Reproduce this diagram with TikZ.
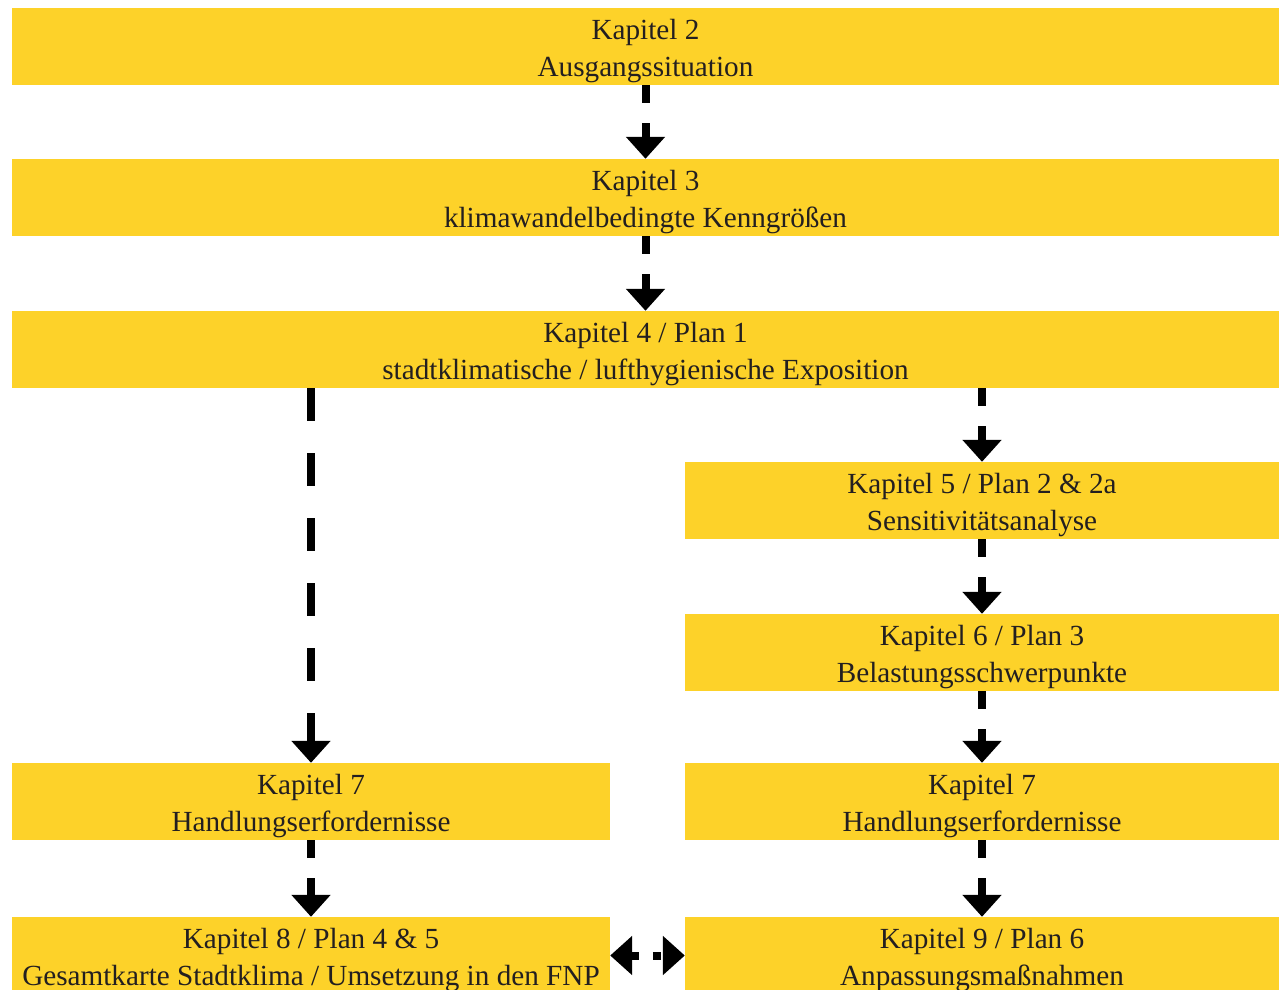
\documentclass[tikz,border=0pt]{standalone}
\usepackage{fontspec}
\setmainfont{Liberation Serif}
\usepackage{xcolor}
\usetikzlibrary{arrows.meta, positioning}
\definecolor{kapgelb}{RGB}{253,210,41}
\definecolor{kaptext}{RGB}{35,31,32}

\begin{document}
\begin{tikzpicture}[x=1pt, y=-1pt,
    box/.style={fill=kapgelb, text=kaptext, align=center, inner sep=0pt,
        minimum height=77pt, font=\fontsize{29.2}{37}\selectfont,
        execute at begin node={\rule{0pt}{66pt}}},
    breit/.style={box, minimum width=1267pt},
    links/.style={box, minimum width=598pt},
    rechts/.style={box, minimum width=594pt},
    pfeil/.style={line width=8pt, dash pattern=on 18pt off 20pt,
        -{Triangle[width=38pt, length=22pt]}}]
    \useasboundingbox (0, 0) rectangle (1279, 990);
    \node[breit] (k2) at (645.5, 46.5) {Kapitel 2\\Ausgangssituation};
    \node[breit] (k3) at (645.5, 197.5) {Kapitel 3\\klimawandelbedingte Kenngrößen};
    \node[breit] (k4) at (645.5, 349.5) {Kapitel 4 / Plan 1\\stadtklimatische / lufthygienische Exposition};
    \node[rechts] (k5) at (982, 500.5) {Kapitel 5 / Plan 2 \& 2a\\Sensitivitätsanalyse};
    \node[rechts] (k6) at (982, 652.5) {Kapitel 6 / Plan 3\\Belastungsschwerpunkte};
    \node[rechts] (k7r) at (982, 801.5) {Kapitel 7\\Handlungserfordernisse};
    \node[links] (k7l) at (311, 801.5) {Kapitel 7\\Handlungserfordernisse};
    \node[links] (k8) at (311, 955.5) {Kapitel 8 / Plan 4 \& 5\\Gesamtkarte Stadtklima / Umsetzung in den FNP};
    \node[rechts] (k9) at (982, 955.5) {Kapitel 9 / Plan 6\\Anpassungsmaßnahmen};
    \draw[pfeil] (k2) -- (k3);
    \draw[pfeil] (k3) -- (k4);
    \draw[pfeil] (k4.south -| k5.north) -- (k5.north);
    \draw[pfeil] (k5) -- (k6);
    \draw[pfeil] (k6) -- (k7r);
    \draw[pfeil] (k7r) -- (k9);
    \draw[pfeil] (k7l) -- (k8);
    \draw[pfeil, dash pattern=on 32.5pt off 32.5pt] (k4.south -| k7l.north) -- (k7l.north);
    \draw[pfeil, dash pattern=on 8pt off 14pt,
        {Triangle[width=38pt, length=22pt]}-{Triangle[width=38pt, length=22pt]}]
    (k8.east) -- (k9.west);
\end{tikzpicture}
\end{document}
